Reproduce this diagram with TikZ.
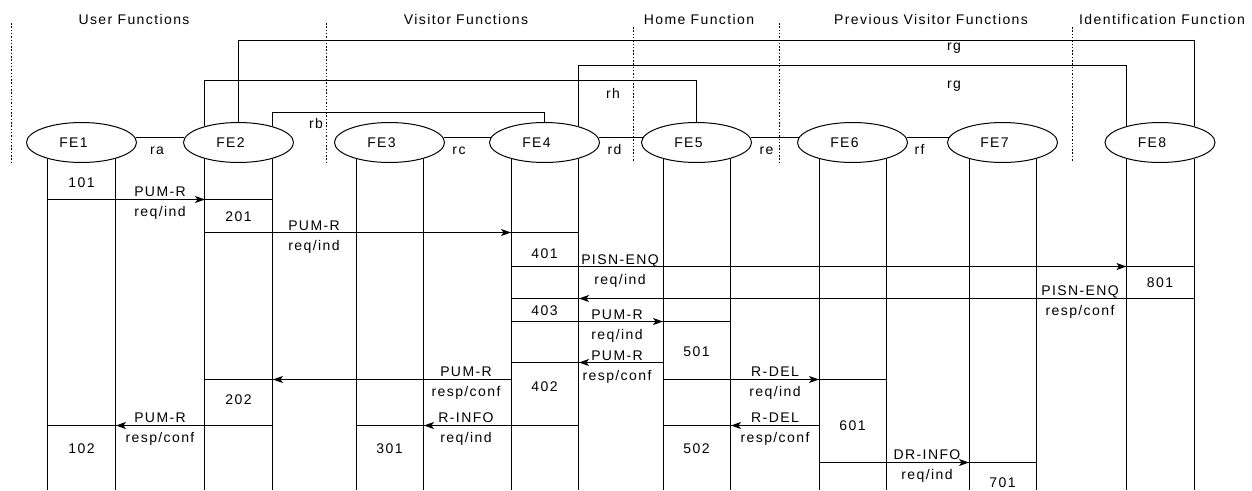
\documentclass[tikz,border=0pt]{standalone}
\usepackage{fontspec}
\setmainfont{Liberation Sans}[LetterSpace=10]
\usetikzlibrary{shapes.geometric,arrows.meta}

\begin{document}
\begin{tikzpicture}[x=1pt, y=-1pt, line width=1pt, font=\fontsize{14}{17}\selectfont,
        fe/.style={ellipse, draw, minimum width=110pt, minimum height=40pt, inner sep=0pt},
        msg/.style={-{Stealth[length=10pt,width=7pt,inset=2.5pt]}},
        sep/.style={line width=1.5pt, dash pattern=on 1.5pt off 1.8pt},
        txt/.style={anchor=base, inner sep=0pt},
        up/.style={txt, yshift=3pt},
        dn/.style={txt, yshift=-17pt},
        rel/.style={midway, txt, yshift=-17pt},
        num/.style={inner sep=0pt}]
    \useasboundingbox (0,0) rectangle (1252,490);

    \node[txt] (uf) at (134,24) {User Functions};
    \node[txt] (vf) at (466,24) {Visitor Functions};
    \node[txt] (hf) at (699,24) {Home Function};
    \node[txt] (pf) at (931,24) {Previous Visitor Functions};
    \node[txt] (idf) at (1162,24) {Identification Function};

    \draw[sep] (11.5,23) -- (11.5,162);
    \draw[sep] (326.5,23) -- (326.5,162);
    \draw[sep] (633.5,27) -- (633.5,162);
    \draw[sep] (779.5,23) -- (779.5,162);
    \draw[sep] (1072.5,27) -- (1072.5,162);

    \coordinate (bot) at (0,490);
    \foreach \i/\x in {1/81.5,2/238.5,3/389.5,4/544.5,5/696.5,6/852.5,7/1002.5,8/1160}{
        \node[fe] (fe\i) at (\x,142.5) {};
        \node[txt] (t\i) at (\x-8,147) {FE\i};
        \coordinate (a\i) at (fe\i.-154.6);
        \coordinate (b\i) at (fe\i.-25.4);
        \draw (a\i) -- (a\i|-bot) (b\i) -- (b\i|-bot);
    }

    \draw (fe1.5) -- (fe2.175) node[rel, xshift=-3pt] {ra};
    \draw (fe3.5) -- (fe4.175) node[rel, xshift=-8pt] {rc};
    \draw (fe4.5) -- (fe5.175) node[rel, xshift=-6pt] {rd};
    \draw (fe5.5) -- (fe6.175) node[rel, xshift=-8pt] {re};
    \draw (fe6.5) -- (fe7.175) node[rel, xshift=-8pt] {rf};

    \coordinate (g1) at (0,40.5);
    \coordinate (g2) at (0,65.5);
    \coordinate (hh) at (0,80.5);
    \coordinate (bb) at (0,112.5);
    \draw (fe2.north) -- (fe2.north|-g1) -| (fe8.25.4);
    \draw (fe4.25.4) -- (fe4.25.4|-g2) -| (fe8.154.6);
    \draw (fe2.154.6) -- (fe2.154.6|-hh) -| (fe5.north);
    \draw (fe2.25.4) -- (fe2.25.4|-bb) -| (fe4.north);
    \node[txt] (rg1) at (954,50.5) {rg};
    \node[txt] (rg2) at (954,88) {rg};
    \node[txt] (rh) at (613,98) {rh};
    \node[txt] (rb) at (316,128) {rb};

    \coordinate (m1) at (0,199.5);
    \coordinate (m2) at (0,232.5);
    \coordinate (m3) at (0,266.5);
    \coordinate (m4) at (0,298.5);
    \coordinate (m5) at (0,321.5);
    \coordinate (m6) at (0,362.5);
    \coordinate (m7) at (0,379.5);
    \coordinate (m8) at (0,425.5);
    \coordinate (m9) at (0,462.5);

    \draw (a1|-m1) -- (b2|-m1);
    \draw[msg] (b1|-m1) -- (a2|-m1);
    \draw (a2|-m2) -- (b4|-m2);
    \draw[msg] (b2|-m2) -- (a4|-m2);
    \draw (a4|-m3) -- (b8|-m3);
    \draw[msg] (b4|-m3) -- (a8|-m3);
    \draw (a4|-m4) -- (b8|-m4);
    \draw[msg] (a8|-m4) -- (b4|-m4);
    \draw (a4|-m5) -- (b5|-m5);
    \draw[msg] (b4|-m5) -- (a5|-m5);
    \draw (a4|-m6) -- (a5|-m6);
    \draw[msg] (a5|-m6) -- (b4|-m6);
    \draw (a2|-m7) -- (a4|-m7);
    \draw[msg] (a4|-m7) -- (b2|-m7);
    \draw (a5|-m7) -- (b6|-m7);
    \draw[msg] (b5|-m7) -- (a6|-m7);
    \draw (a1|-m8) -- (b2|-m8);
    \draw[msg] (a2|-m8) -- (b1|-m8);
    \draw (a3|-m8) -- (b4|-m8);
    \draw[msg] (a4|-m8) -- (b3|-m8);
    \draw (a5|-m8) -- (a6|-m8);
    \draw[msg] (a6|-m8) -- (b5|-m8);
    \draw (a6|-m9) -- (b7|-m9);
    \draw[msg] (b6|-m9) -- (a7|-m9);

    \node[up] (p1) at (160,199) {PUM-R};
    \node[dn] (q1) at (160,199) {req/ind};
    \node[up] (p2) at (314,233) {PUM-R};
    \node[dn] (q2) at (314,233) {req/ind};
    \node[up] (p3) at (620,267) {PISN-ENQ};
    \node[dn] (q3) at (620,267) {req/ind};
    \node[up] (p4) at (1080,298) {PISN-ENQ};
    \node[dn] (q4) at (1080,298) {resp/conf};
    \node[up] (p5) at (617,322) {PUM-R};
    \node[dn] (q5) at (617,322) {req/ind};
    \node[up] (p6) at (617,363) {PUM-R};
    \node[dn] (q6) at (617,363) {resp/conf};
    \node[up] (p7) at (466,379.5) {PUM-R};
    \node[dn] (q7) at (466,379.5) {resp/conf};
    \node[up] (p8) at (775,379.5) {R-DEL};
    \node[dn] (q8) at (775,379.5) {req/ind};
    \node[up] (p9) at (160,425.5) {PUM-R};
    \node[dn] (q9) at (160,425.5) {resp/conf};
    \node[up] (p10) at (466,425.5) {R-INFO};
    \node[dn] (q10) at (466,425.5) {req/ind};
    \node[up] (p11) at (775,425.5) {R-DEL};
    \node[dn] (q11) at (775,425.5) {resp/conf};
    \node[up] (p12) at (927,462) {DR-INFO};
    \node[dn] (q12) at (927,462) {req/ind};

    \node[num] (n101) at (81.5,183) {101};
    \node[num] (n201) at (238.5,217) {201};
    \node[num] (n401) at (544.5,254) {401};
    \node[num] (n801) at (1160,283) {801};
    \node[num] (n403) at (544.5,311) {403};
    \node[num] (n501) at (696.5,352) {501};
    \node[num] (n402) at (544.5,387) {402};
    \node[num] (n202) at (238.5,400) {202};
    \node[num] (n601) at (852.5,426) {601};
    \node[num] (n102) at (81.5,449) {102};
    \node[num] (n301) at (389.5,449) {301};
    \node[num] (n502) at (696.5,449) {502};
    \node[num] (n701) at (1002.5,482.5) {701};
\end{tikzpicture}
\end{document}
